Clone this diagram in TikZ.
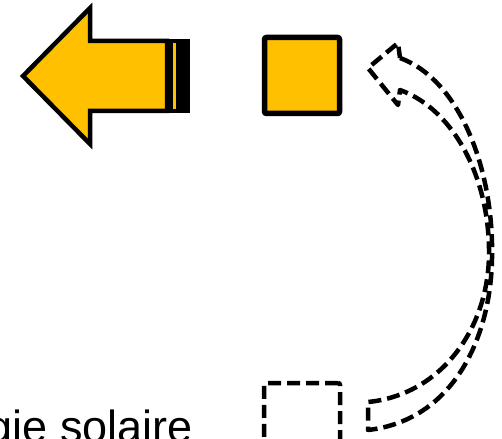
\documentclass[tikz,border=0pt]{standalone}
\usepackage{fontspec}
\setmainfont{Liberation Sans}
\definecolor{sunyellow}{HTML}{FFC000}
\tikzset{
  solidshape/.style={draw=black, fill=sunyellow, line width=4.5pt, line join=miter},
  dashshape/.style={draw=black, line width=4.5pt, dash pattern=on 13pt off 6pt, line join=round},
}
\begin{document}
\begin{tikzpicture}[x=1pt,y=-1pt]
\useasboundingbox (0,0) rectangle (502,438);
\clip (0,0) rectangle (502,438);
% striped left arrow
\fill[black] (165,38.75) rectangle (190,113.25);
\fill[sunyellow] (173.2,43.25) rectangle (175.8,108.75);
\draw[solidshape] (23,76) -- (90,8) -- (90,41) -- (167,41) -- (167,111) -- (90,111) -- (90,144) -- cycle;
% yellow square
\node[solidshape, rounded corners=2pt, minimum width=75pt, minimum height=76pt, inner sep=0pt, line width=5.5pt] (sq) at (302,75.5) {};
% dashed square (lower)
\node[dashshape, rounded corners=2pt, minimum width=76pt, minimum height=80pt, inner sep=0pt] (dsq) at (302,423) {};
% curved dashed arrow
\draw[dashshape]
  (400,58) .. controls (460,80) and (494,170) .. (492,258)
  .. controls (491,335) and (455,420) .. (368,430)
  -- (368,402)
  .. controls (440,395) and (488,330) .. (489,255)
  .. controls (490,180) and (455,110) .. (400,90)
  -- (398,105) -- (368,68) -- (398,43) -- cycle;
% text
\node[anchor=base east, inner sep=0pt, font=\fontsize{45}{45}\selectfont] (txt) at (193,442) {énergie solaire};
\end{tikzpicture}
\end{document}
